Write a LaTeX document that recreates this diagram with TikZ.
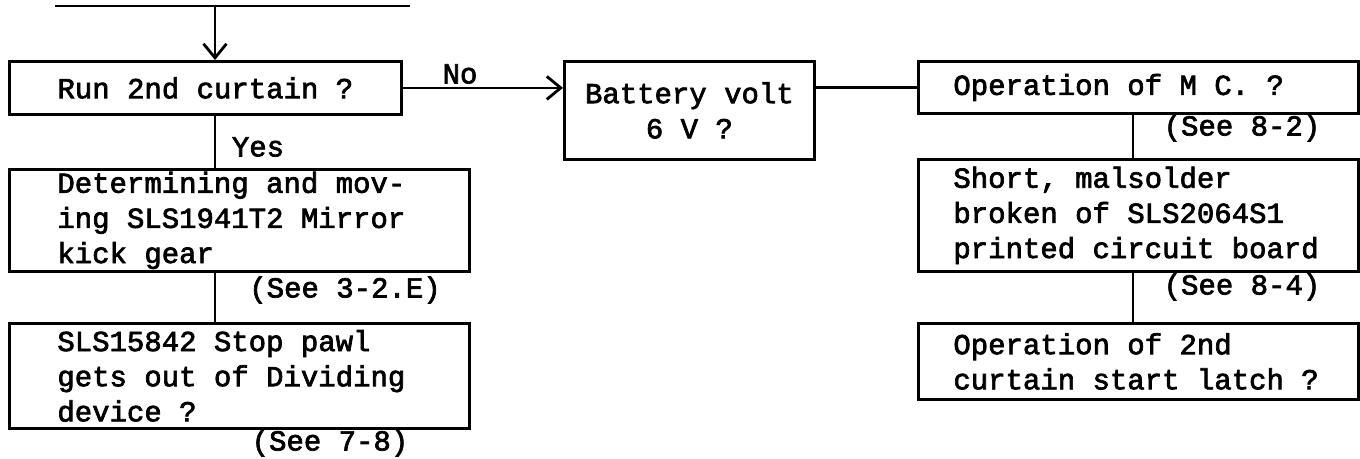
\documentclass[tikz,border=0pt]{standalone}
\usepackage{fontspec}
\setmainfont{Liberation Mono}[WordSpace={1,0,0}, FakeBold=2.4]
\usepackage{tikz}
\usetikzlibrary{positioning, arrows.meta, calc}

\begin{document}
\begin{tikzpicture}[
    x=0.02cm, y=-0.02cm,
    font=\fontsize{16.5}{20}\selectfont,
    boxnode/.style={rectangle, draw=black, line width=1.6pt, anchor=north west},
    boxnodeleft/.style={boxnode, align=left, text width=7.28cm, inner xsep=0.96cm, inner ysep=0pt,
        execute at begin node={\spaceskip=0pt\xspaceskip=0pt\relax}},
    boxnoderight/.style={boxnode, align=left, text width=7.4cm, inner xsep=0.7cm, inner ysep=0pt,
        execute at begin node={\spaceskip=0pt\xspaceskip=0pt\relax}},
    linknode/.style={line width=1.4pt},
    >={Straight Barb[length=2.8mm, width=4.6mm, line width=1.6pt]}
]
\useasboundingbox (0,0) rectangle (1360,459);

% entry line
\coordinate (in_l) at (55,6);
\coordinate (in_r) at (410,6);
\coordinate (in_m) at (215,6);
\coordinate (col_r) at (1133,0);

\node[boxnode, minimum width=7.84cm, minimum height=1.06cm](run) at (8,60){Run 2nd curtain ?};
\node[boxnodeleft, minimum height=2.04cm](mirror) at (8,168){Determining and mov-\\ing SLS1941T2 Mirror\\kick gear};
\node[boxnodeleft, minimum height=2.1cm](pawl) at (8,322){SLS15842 Stop pawl\\gets out of Dividing\\device ?};
\node[boxnode, align=center, minimum width=5cm, minimum height=1.96cm](batt) at (563,60){Battery volt\\6 V ?};
\node[boxnoderight, minimum height=1.04cm](mc) at (917,60){Operation of M C. ?};
\node[boxnoderight, minimum height=2.24cm](pcb) at (917,158){Short, malsolder\\broken of SLS2064S1\\printed circuit board};
\node[boxnoderight, minimum height=1.52cm](latch) at (917,322){Operation of 2nd\\curtain start latch ?};

\node(no) at (460,74){No};
\node(yes) at (258,147){Yes};
\node(see_mirror) at (345,290){(See 3-2.E)};
\node(see_pawl) at (330,443){(See 7-8)};
\node(see_mc) at (1242,128){(See 8-2)};
\node(see_pcb) at (1242,287){(See 8-4)};

\draw[linknode] (in_l) -- (in_r);
\draw[linknode, ->] (in_m) -- (run.north -| in_m);
\draw[linknode, ->] (run.east) -- (run.east -| batt.west);
\draw[linknode] (batt.east |- mc.west) -- (mc.west);
\draw[linknode] (run.south -| in_m) -- (mirror.north -| in_m);
\draw[linknode] (mirror.south -| in_m) -- (pawl.north -| in_m);
\draw[linknode] (mc.south -| col_r) -- (pcb.north -| col_r);
\draw[linknode] (pcb.south -| col_r) -- (latch.north -| col_r);
\end{tikzpicture}
\end{document}
